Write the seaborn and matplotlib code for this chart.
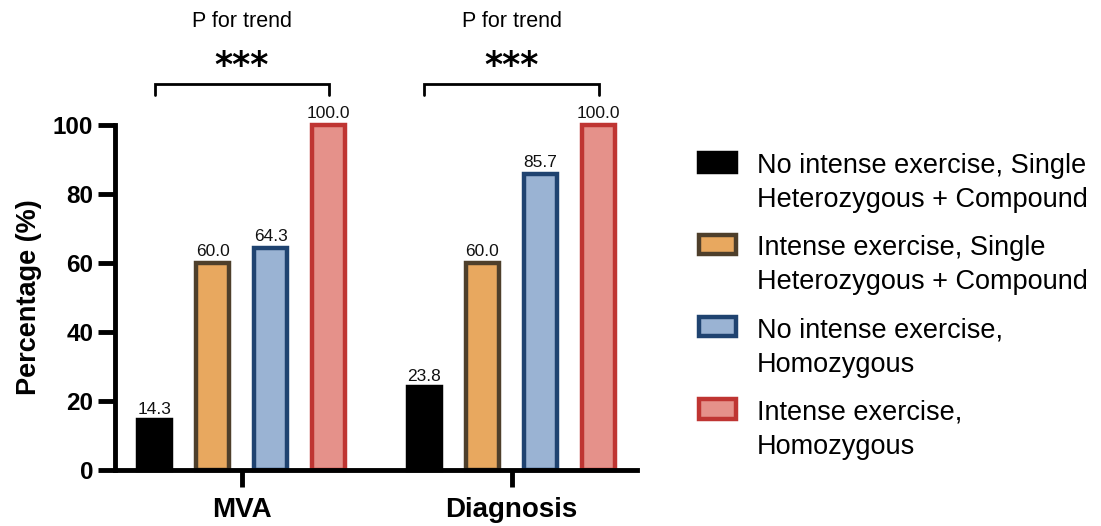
import numpy as np
import pandas as pd
import matplotlib
matplotlib.use("Agg")
import matplotlib.pyplot as plt
import seaborn as sns
from matplotlib.patches import Patch

# ---- data -------------------------------------------------------------
outcomes = ["MVA", "Diagnosis"]
groups = [
    "No intense exercise, Single\nHeterozygous + Compound",
    "Intense exercise, Single\nHeterozygous + Compound",
    "No intense exercise,\nHomozygous",
    "Intense exercise,\nHomozygous",
]
mva_pct = [14.3, 60.0, 64.3, 100.0]
diagnosis_pct = [23.8, 60.0, 85.7, 100.0]
trend_marks = ["***", "***"]
trend_title = "P for trend"
y_ticks = [0, 20, 40, 60, 80, 100]

fill_colors = ["#000000", "#E8A85F", "#9AB3D3", "#E5918A"]
edge_colors = ["#000000", "#4E3F2B", "#1F4370", "#BF3532"]

df = pd.DataFrame({
    "Outcome": np.repeat(outcomes, len(groups)),
    "Group": groups * len(outcomes),
    "Percentage": mva_pct + diagnosis_pct,
})

# ---- style ------------------------------------------------------------
sns.set_theme(style="ticks")
plt.rcParams["font.family"] = ["Liberation Sans", "DejaVu Sans"]
plt.rcParams.update({
    "text.color": "black",
    "axes.labelcolor": "black",
    "xtick.color": "black",
    "ytick.color": "black",
})

fig = plt.figure(figsize=(11.01, 5.26), dpi=100)
ax = fig.add_axes([0.1049, 0.1074, 0.4737, 0.6559])

sns.barplot(
    data=df, x="Outcome", y="Percentage", hue="Group",
    order=outcomes, hue_order=groups, palette=fill_colors,
    saturation=1, width=0.86, gap=0.43, dodge=True,
    legend=False, ax=ax,
)

for cont, ec in zip(ax.containers, edge_colors):
    for bar in cont:
        bar.set_edgecolor(ec)
        bar.set_linewidth(3.2)
        bar.set_clip_on(False)
    ax.bar_label(cont, fmt="%.1f", padding=2.5, fontsize=12.5, color="#111111")

ax.set_xlim(-0.467, 1.465)
ax.set_ylim(0, 100)
ax.set_yticks(y_ticks)
ax.set_xlabel("")
ax.set_ylabel("Percentage (%)", fontsize=19.5, fontweight="bold")
ax.yaxis.set_label_coords(-0.141, 0.5)

sns.despine(ax=ax)
for side in ("left", "bottom"):
    ax.spines[side].set_linewidth(3.5)
    ax.spines[side].set_color("black")

ax.tick_params(axis="y", length=12.5, width=3.5, pad=3.5, labelsize=17.5)
ax.tick_params(axis="x", length=12.5, width=3.5, pad=7.5, labelsize=20)
for lab in ax.get_xticklabels() + ax.get_yticklabels():
    lab.set_fontweight("bold")

# ---- trend brackets above each group ----------------------------------
first, last = ax.containers[0], ax.containers[-1]
for i, mark in enumerate(trend_marks):
    x0 = first[i].get_x() + first[i].get_width() / 2
    x1 = last[i].get_x() + last[i].get_width() / 2
    xm = (x0 + x1) / 2
    ax.plot([x0, x0, x1, x1], [108.6, 111.6, 111.6, 108.6], color="black",
            lw=2.0, clip_on=False, solid_joinstyle="miter")
    ax.text(xm, 117.0, mark, ha="center", va="center", fontsize=25,
            fontweight="bold", family="DejaVu Sans", clip_on=False)
    ax.text(xm, 130.0, trend_title, ha="center", va="center", fontsize=15.5,
            clip_on=False)

# ---- legend -----------------------------------------------------------
handles = [Patch(facecolor=fc, edgecolor=ec, linewidth=3.2)
           for fc, ec in zip(fill_colors, edge_colors)]
leg = fig.legend(
    handles, groups, loc="upper left", bbox_to_anchor=(699 / 1101, 1 - 153 / 526),
    frameon=False, borderpad=0, borderaxespad=0, fontsize=19.5,
    handlelength=1.35, handleheight=0.72, handletextpad=0.78, labelspacing=0.8,
)
for t in leg.get_texts():
    t.set_linespacing(1.42)
for column in leg._legend_handle_box.get_children():
    for item in column.get_children():
        item.align = "top"

fig.savefig("out.png", dpi=100)
